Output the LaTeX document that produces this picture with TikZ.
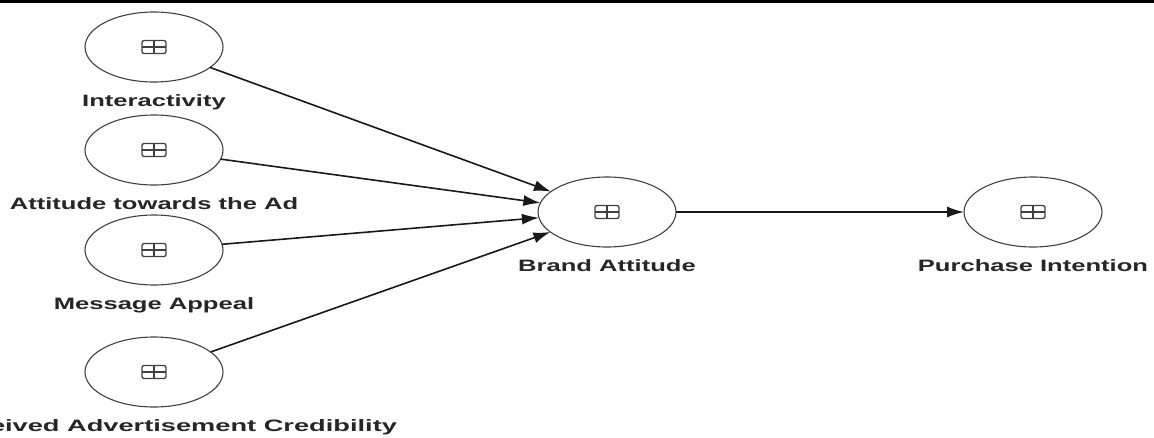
\documentclass[tikz,border=0pt]{standalone}
\usepackage{fontspec}
\newfontfamily\lblfont{Liberation Sans}[FakeStretch=1.55]
\newfontfamily\widelblfont{Liberation Sans}[FakeStretch=1.65]
\usetikzlibrary{shapes.geometric,arrows.meta,positioning}

\tikzset{
  construct/.style={ellipse,draw=black!75,line width=1.1pt,
    minimum width=138pt,minimum height=70pt,inner sep=0pt,outer sep=0pt,
    path picture={
      \draw[line width=1.3pt,rounded corners=2pt]
        ([xshift=-12pt,yshift=-6.5pt]path picture bounding box.center) rectangle
        ([xshift=12pt,yshift=6.5pt]path picture bounding box.center);
      \draw[line width=1.3pt] ([yshift=-6.5pt]path picture bounding box.center) --
        ([yshift=6.5pt]path picture bounding box.center);
      \draw[line width=1.3pt] ([xshift=-12pt]path picture bounding box.center) --
        ([xshift=12pt]path picture bounding box.center);
    }},
  lbl/.style={font=\lblfont\bfseries\fontsize{16.5}{18}\selectfont,text=black!85,
    inner sep=0pt,text height=12pt,text depth=3.5pt},
  link/.style={-{Latex[length=17pt,width=11pt]},line width=1.6pt,draw=black!90}
}

\begin{document}
\begin{tikzpicture}[x=1pt,y=-1pt]
  \path[use as bounding box,clip] (0,0) rectangle (1154,437);
  \draw[line width=5pt] (0,0) -- (1154,0);

  % constructs
  \node[construct] (int) at (154,47) {};
  \node[construct] (att) at (154,150) {};
  \node[construct] (msg) at (154,250) {};
  \node[construct] (cred) at (154,372) {};
  \node[construct] (brand) at (607,212) {};
  \node[construct] (pur) at (1033,212) {};

  % names
  \node[lbl,below=12pt of int] (intlbl) {Interactivity};
  \node[lbl,below=12pt of att] (attlbl) {Attitude towards the Ad};
  \node[lbl,below=12pt of msg] (msglbl) {Message Appeal};
  \node[lbl,font=\widelblfont\bfseries\fontsize{16.5}{18}\selectfont,
    below=12pt of cred,xshift=10pt] (credlbl) {Perceived Advertisement Credibility};
  \node[lbl,below=12pt of brand] (brandlbl) {Brand Attitude};
  \node[lbl,below=12pt of pur] (purlbl) {Purchase Intention};

  % paths
  \draw[link] (int) -- (brand);
  \draw[link] (att) -- (brand);
  \draw[link] (msg) -- (brand);
  \draw[link] (cred) -- (brand);
  \draw[link] (brand) -- (pur);
\end{tikzpicture}
\end{document}
